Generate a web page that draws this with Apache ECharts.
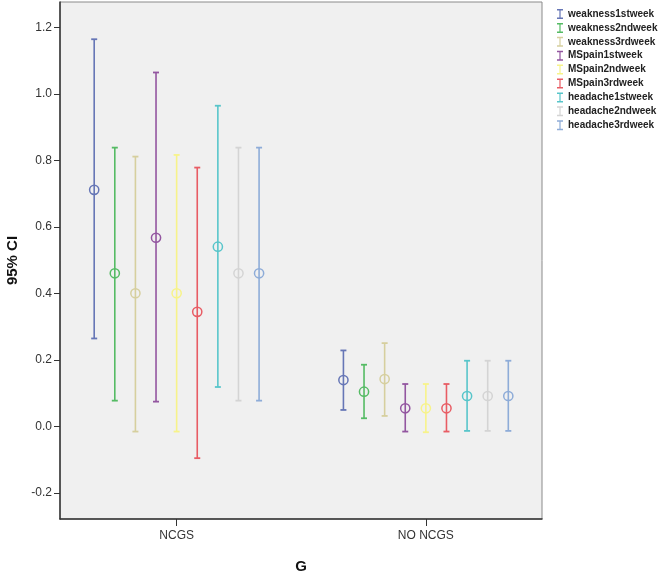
<!DOCTYPE html>
<html>
<head>
<meta charset="utf-8">
<script src="https://cdn.jsdelivr.net/npm/echarts@6/dist/echarts.min.js"></script>
<style>
html,body{margin:0;padding:0;background:#fff;}
#c{width:662px;height:573px;}
</style>
</head>
<body>
<div id="c"></div>
<script>
const groups = ['NCGS', 'NO NCGS'];
const seriesNames = ['weakness1stweek','weakness2ndweek','weakness3rdweek','MSpain1stweek','MSpain2ndweek','MSpain3rdweek','headache1stweek','headache2ndweek','headache3rdweek'];
const colors = ['#6676b6','#55bb64','#d6cf9e','#9356a0','#f7f38a','#e85c64','#58c5ca','#d4d4d4','#8eacd8'];
// NCGS
const lowNCGS  = [0.265, 0.078, -0.015, 0.075, -0.015, -0.095, 0.119, 0.078, 0.078];
const meanNCGS = [0.712, 0.461, 0.401, 0.568, 0.401, 0.345, 0.541, 0.461, 0.461];
const highNCGS = [1.165, 0.839, 0.812, 1.065, 0.817, 0.779, 0.965, 0.839, 0.839];
// NO NCGS
const lowNO  = [0.050, 0.025, 0.032, -0.015, -0.017, -0.015, -0.013, -0.013, -0.013];
const meanNO = [0.140, 0.105, 0.143, 0.055, 0.055, 0.055, 0.092, 0.092, 0.092];
const highNO = [0.229, 0.186, 0.251, 0.128, 0.128, 0.128, 0.198, 0.198, 0.198];
const yTicks = [-0.2, 0.0, 0.2, 0.4, 0.6, 0.8, 1.0, 1.2];

const chart = echarts.init(document.getElementById('c'), null, {renderer: 'canvas'});
const SPACING = 0.0827;
const capIcon = 'path://M0,0 H6 V1.5 H3.6 V8.5 H6 V10 H0 V8.5 H2.4 V1.5 H0 Z';

const series = seriesNames.map((name, i) => ({
  name: name,
  type: 'custom',
  itemStyle: {color: colors[i]},
  data: [
    [0, lowNCGS[i], meanNCGS[i], highNCGS[i]],
    [1, lowNO[i], meanNO[i], highNO[i]]
  ],
  encode: {x: 0, y: [1, 2, 3]},
  renderItem: function (params, api) {
    const g = api.value(0);
    const off = (params.seriesIndex - 4) * SPACING;
    const pLo = api.coord([g + off, api.value(1)]);
    const pMid = api.coord([g + off, api.value(2)]);
    const pHi = api.coord([g + off, api.value(3)]);
    const c = api.visual('color');
    const hw = 3;
    return {
      type: 'group',
      children: [
        {type: 'line', shape: {x1: pLo[0], y1: pLo[1], x2: pHi[0], y2: pHi[1]}, style: {stroke: c, lineWidth: 1.6}},
        {type: 'line', shape: {x1: pHi[0] - hw, y1: pHi[1], x2: pHi[0] + hw, y2: pHi[1]}, style: {stroke: c, lineWidth: 1.8}},
        {type: 'line', shape: {x1: pLo[0] - hw, y1: pLo[1], x2: pLo[0] + hw, y2: pLo[1]}, style: {stroke: c, lineWidth: 1.8}},
        {type: 'circle', shape: {cx: pMid[0], cy: pMid[1], r: 4.6}, style: {stroke: c, fill: 'rgba(0,0,0,0)', lineWidth: 1.5}}
      ]
    };
  }
}));

chart.setOption({
  animation: false,
  backgroundColor: '#ffffff',
  textStyle: {fontFamily: 'Liberation Sans, Arial, sans-serif'},
  grid: {left: 60, right: 120, top: 2, bottom: 54, outerBoundsMode: 'none', containLabel: false, show: true, backgroundColor: '#f0f0f0', borderColor: '#8a8a8a', borderWidth: 1},
  legend: {
    orient: 'vertical', left: 557, top: 9, padding: 0, itemGap: 3.9, itemWidth: 6, itemHeight: 10,
    data: seriesNames.map((n, i) => ({name: n, icon: capIcon})),
    textStyle: {fontSize: 10, fontWeight: 'bold', color: '#222'},
    selectedMode: false
  },
  xAxis: {
    type: 'value', min: -0.468, max: 1.466,
    name: 'G', nameLocation: 'middle', nameGap: 40,
    nameTextStyle: {fontSize: 15, fontWeight: 'bold', color: '#111'},
    axisLine: {show: true, onZero: false, lineStyle: {color: '#333', width: 1.5}},
    axisTick: {show: true, length: 7, customValues: [0, 1], lineStyle: {color: '#333'}},
    axisLabel: {customValues: [0, 1], formatter: v => groups[Math.round(v)], fontSize: 12, color: '#333', margin: 11},
    splitLine: {show: false}
  },
  yAxis: {
    type: 'value', min: -0.278, max: 1.277,
    name: '95% CI', nameLocation: 'middle', nameGap: 40,
    nameTextStyle: {fontSize: 15, fontWeight: 'bold', color: '#111'},
    axisLine: {show: true, onZero: false, lineStyle: {color: '#333', width: 1.5}},
    axisTick: {show: true, length: 6, customValues: yTicks, lineStyle: {color: '#333'}},
    axisLabel: {customValues: yTicks, formatter: v => v.toFixed(1), fontSize: 12, color: '#333', margin: 8},
    splitLine: {show: false}
  },
  series: series
});
</script>
</body>
</html>
